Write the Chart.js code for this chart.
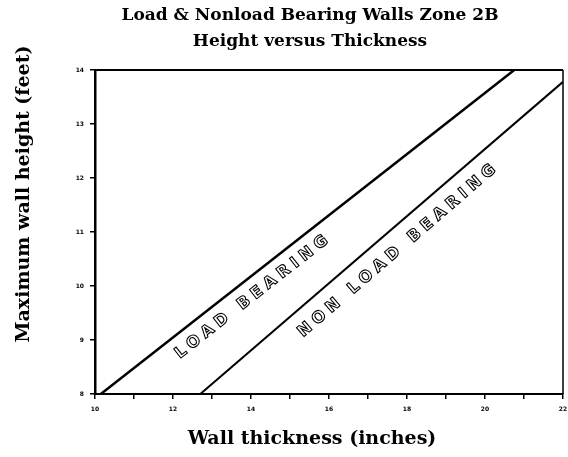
<!DOCTYPE html>
<html>
<head>
<meta charset="utf-8">
<script src="https://cdn.jsdelivr.net/npm/chart.js@4"></script>
<style>
  html, body { margin: 0; padding: 0; background: #fff; }
  #wrap { width: 568px; height: 457px; }
</style>
</head>
<body>
<div id="wrap"><canvas id="wallChart" width="568" height="457"></canvas></div>
<script>
// values (inches, feet)
const loadThickness = [10.15, 20.75];
const loadHeight = [8, 14];
const nonloadThickness = [12.7, 22];
const nonloadHeight = [8, 13.78];

const xTicks = [10, 12, 14, 16, 18, 20, 22];
const yTicks = [8, 9, 10, 11, 12, 13, 14];

const titleLines = ['Load & Nonload Bearing Walls Zone 2B', 'Height versus Thickness'];
const xTitle = 'Wall thickness (inches)';
const yTitle = 'Maximum wall height (feet)';

const toPoints = (xs, ys) => xs.map((x, i) => ({ x: x, y: ys[i] }));

// text written along each line
const lineLabels = [
    { text: 'LOAD BEARING', dataset: 0, atX: 13.74, offset: 17 },
    { text: 'NON LOAD BEARING', dataset: 1, atX: 17.4, offset: 20 }
];

// titles drawn by hand so they sit where the original has them
const titlesPlugin = {
    id: 'titles',
    afterDraw(chart) {
        const ctx = chart.ctx;
        ctx.save();
        ctx.fillStyle = '#000';
        ctx.textAlign = 'center';
        ctx.textBaseline = 'middle';
        ctx.font = 'bold 17px "DejaVu Serif"';
        ctx.fillText(titleLines[0], 310, 16);
        ctx.fillText(titleLines[1], 310, 42);
        ctx.font = 'bold 19px "DejaVu Serif"';
        ctx.fillText(xTitle, 312, 439);
        ctx.translate(24, 194);
        ctx.rotate(-Math.PI / 2);
        ctx.font = 'bold 19px "DejaVu Serif"';
        ctx.fillText(yTitle, 0, 0);
        ctx.restore();
    }
};

// frame on top and right of the plot
const framePlugin = {
    id: 'frame',
    afterDraw(chart) {
        const a = chart.chartArea;
        const ctx = chart.ctx;
        ctx.save();
        ctx.strokeStyle = '#000';
        ctx.lineWidth = 2;
        ctx.beginPath();
        ctx.moveTo(a.left, a.top);
        ctx.lineTo(a.right, a.top);
        ctx.stroke();
        ctx.lineWidth = 1.5;
        ctx.beginPath();
        ctx.moveTo(a.right, a.top);
        ctx.lineTo(a.right, a.bottom);
        ctx.stroke();
        ctx.restore();
    }
};

// hollow hand-lettered labels along the lines
const lineLabelPlugin = {
    id: 'lineLabels',
    afterDatasetsDraw(chart) {
        const ctx = chart.ctx;
        const xs = chart.scales.x, ys = chart.scales.y;
        lineLabels.forEach(lbl => {
            const pts = chart.data.datasets[lbl.dataset].data;
            const p0 = pts[0], p1 = pts[pts.length - 1];
            const px0 = xs.getPixelForValue(p0.x), py0 = ys.getPixelForValue(p0.y);
            const px1 = xs.getPixelForValue(p1.x), py1 = ys.getPixelForValue(p1.y);
            const angle = Math.atan2(py1 - py0, px1 - px0);
            const t = (lbl.atX - p0.x) / (p1.x - p0.x);
            const yVal = p0.y + t * (p1.y - p0.y);
            let cx = xs.getPixelForValue(lbl.atX);
            let cy = ys.getPixelForValue(yVal);
            cx += -Math.sin(angle) * lbl.offset;
            cy += Math.cos(angle) * lbl.offset;
            ctx.save();
            ctx.translate(cx, cy);
            ctx.rotate(angle);
            ctx.font = 'bold 16px "DejaVu Sans"';
            ctx.letterSpacing = '5px';
            ctx.textAlign = 'center';
            ctx.textBaseline = 'middle';
            ctx.strokeStyle = '#000';
            ctx.lineWidth = 1.1;
            ctx.strokeText(lbl.text, 3, 0);
            ctx.restore();
        });
    }
};

new Chart(document.getElementById('wallChart'), {
    type: 'line',
    data: {
        datasets: [
            {
                label: 'Load bearing',
                data: toPoints(loadThickness, loadHeight),
                borderColor: '#000',
                borderWidth: 2.5,
                pointRadius: 0,
                fill: false
            },
            {
                label: 'Nonload bearing',
                data: toPoints(nonloadThickness, nonloadHeight),
                borderColor: '#000',
                borderWidth: 2,
                pointRadius: 0,
                fill: false
            }
        ]
    },
    options: {
        responsive: false,
        animation: false,
        layout: { padding: { top: 70, right: 0, left: 0, bottom: 0 } },
        plugins: {
            legend: { display: false },
            tooltip: { enabled: false },
            title: { display: false }
        },
        scales: {
            x: {
                type: 'linear',
                min: xTicks[0],
                max: xTicks[xTicks.length - 1],
                afterFit(scale) {
                    scale.height = 63;
                    scale.paddingRight = 5;
                },
                border: { color: '#000', width: 2 },
                grid: { drawOnChartArea: false, drawTicks: true, tickLength: 5, color: '#000', lineWidth: 1.5 },
                ticks: {
                    stepSize: 1,
                    autoSkip: false,
                    maxRotation: 0,
                    color: '#000',
                    padding: 7,
                    font: { family: '"DejaVu Sans"', size: 6, weight: 'bold' },
                    callback: v => xTicks.includes(v) ? String(v) : ''
                }
            },
            y: {
                type: 'linear',
                min: yTicks[0],
                max: yTicks[yTicks.length - 1],
                afterFit(scale) { scale.width = 95; },
                border: { color: '#000', width: 2.5 },
                grid: { drawOnChartArea: false, drawTicks: true, tickLength: 5, color: '#000', lineWidth: 1.5 },
                ticks: {
                    stepSize: 1,
                    color: '#000',
                    padding: 6,
                    font: { family: '"DejaVu Sans"', size: 6, weight: 'bold' },
                    callback: v => yTicks.includes(v) ? String(v) : ''
                }
            }
        }
    },
    plugins: [framePlugin, lineLabelPlugin, titlesPlugin]
});
</script>
</body>
</html>
